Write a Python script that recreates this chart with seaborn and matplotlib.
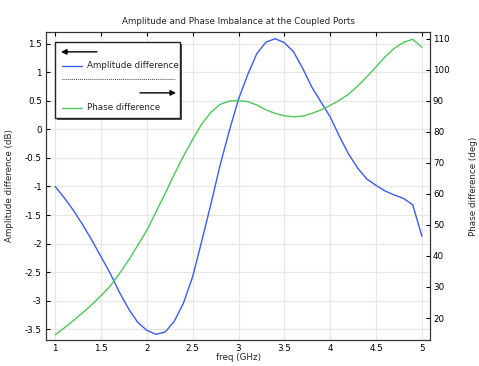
import numpy as np
import pandas as pd
import matplotlib
matplotlib.use("Agg")
import matplotlib.pyplot as plt
import seaborn as sns
from matplotlib.patches import Rectangle
from matplotlib.lines import Line2D

freq = [1.0, 1.1, 1.2, 1.3, 1.4, 1.5, 1.6, 1.7, 1.8, 1.9, 2.0, 2.1, 2.2, 2.3, 2.4,
        2.5, 2.6, 2.7, 2.8, 2.9, 3.0, 3.1, 3.2, 3.3, 3.4, 3.5, 3.6, 3.7, 3.8, 3.9,
        4.0, 4.1, 4.2, 4.3, 4.4, 4.5, 4.6, 4.7, 4.8, 4.9, 5.0]
amp_diff = [-1.0, -1.2, -1.42, -1.67, -1.94, -2.23, -2.52, -2.85, -3.14, -3.38, -3.52,
            -3.59, -3.55, -3.36, -3.04, -2.58, -1.95, -1.3, -0.62, -0.02, 0.53, 0.96,
            1.33, 1.53, 1.59, 1.52, 1.36, 1.07, 0.74, 0.48, 0.22, -0.12, -0.43, -0.68,
            -0.87, -0.98, -1.08, -1.15, -1.21, -1.32, -1.87]
phase_diff = [14.6, 16.8, 19.2, 21.7, 24.3, 27.2, 30.3, 34.3, 38.6, 43.4, 48.3, 54.2,
              60.2, 66.4, 72.2, 77.6, 82.6, 86.4, 88.9, 90.0, 90.1, 89.8, 88.7, 87.1,
              86.0, 85.2, 84.9, 85.1, 86.0, 87.1, 88.6, 90.2, 92.2, 94.8, 97.8, 101.0,
              104.3, 107.0, 108.9, 109.9, 107.3]

x_ticks = [1, 1.5, 2, 2.5, 3, 3.5, 4, 4.5, 5]
x_tick_labels = ["1", "1.5", "2", "2.5", "3", "3.5", "4", "4.5", "5"]
yl_ticks = [-3.5, -3, -2.5, -2, -1.5, -1, -0.5, 0, 0.5, 1, 1.5]
yl_tick_labels = ["-3.5", "-3", "-2.5", "-2", "-1.5", "-1", "-0.5", "0", "0.5", "1", "1.5"]
yr_ticks = [20, 30, 40, 50, 60, 70, 80, 90, 100, 110]

df = pd.DataFrame({"freq": freq, "amp": amp_diff, "phase": phase_diff})

sns.set_theme(style="white")
plt.rcParams["font.family"] = ["DejaVu Sans"]
plt.rcParams["axes.unicode_minus"] = False

BLUE = "#3b5cf2"
GREEN = "#4cc85a"
FS = 6.3

fig = plt.figure(figsize=(4.79, 3.66), dpi=100)
ax = fig.add_axes([0.096, 0.071, 0.802, 0.842])
ax2 = ax.twinx()

sns.lineplot(data=df, x="freq", y="amp", ax=ax, color=BLUE, linewidth=1.0)
sns.lineplot(data=df, x="freq", y="phase", ax=ax2, color=GREEN, linewidth=1.0)

ax.set_xlim(0.9, 5.09)
ax.set_ylim(-3.69, 1.71)
ax2.set_ylim(12.9, 112.3)

ax.set_xticks(x_ticks)
ax.set_xticklabels(x_tick_labels, fontsize=FS)
ax.set_yticks(yl_ticks)
ax.set_yticklabels(yl_tick_labels, fontsize=FS)
ax2.set_yticks(yr_ticks)
ax2.set_yticklabels([str(v) for v in yr_ticks], fontsize=FS)

ax.grid(True, color="#e6e6e6", linewidth=0.8)
ax.set_axisbelow(True)
ax.tick_params(axis="x", direction="in", top=True, length=3, width=0.8, pad=3, colors="black")
ax.tick_params(axis="y", direction="in", length=3, width=0.8, pad=3, colors="black")
ax2.tick_params(axis="y", direction="in", length=3, width=0.8, pad=2, colors="black")
for a in (ax, ax2):
    for s in a.spines.values():
        s.set_color("#333333")
        s.set_linewidth(0.8)

ax.set_xlabel("freq (GHz)", fontsize=FS, labelpad=0)
ax.set_ylabel("Amplitude difference (dB)", fontsize=FS, labelpad=8)
ax2.set_ylabel("Phase difference (deg)", fontsize=FS, labelpad=14)
ax.set_title("Amplitude and Phase Imbalance at the Coupled Ports", fontsize=FS, pad=6)

# legend box (axes fraction coordinates)
x0, x1 = 0.023, 0.349
y0, y1 = 0.721, 0.968
shadow = Rectangle((x0 + 0.006, y0 - 0.008), x1 - x0, y1 - y0, transform=ax2.transAxes,
                   facecolor="#555555", edgecolor="none", zorder=9)
box = Rectangle((x0, y0), x1 - x0, y1 - y0, transform=ax2.transAxes,
                facecolor="white", edgecolor="#222222", linewidth=1.0, zorder=10)
ax2.add_patch(shadow)
ax2.add_patch(box)

def fy(py):
    return (340 - py) / 308.0

def fx(px):
    return (px - 46) / 384.0

ax2.annotate("", xy=(fx(61), fy(52)), xytext=(fx(97), fy(52)), xycoords=ax2.transAxes,
             arrowprops=dict(arrowstyle="-|>", color="black", lw=1.0, mutation_scale=8,
                             shrinkA=0, shrinkB=0), zorder=11)
ax2.add_line(Line2D([fx(62), fx(82)], [fy(66), fy(66)], transform=ax2.transAxes,
                    color=BLUE, lw=1.0, zorder=11))
ax2.text(fx(87), fy(66), "Amplitude difference", transform=ax2.transAxes, fontsize=FS,
         va="center", ha="left", zorder=11)
ax2.add_line(Line2D([fx(62), fx(175)], [fy(79), fy(79)], transform=ax2.transAxes,
                    color="#444444", lw=0.7, ls=(0, (1, 1)), zorder=11))
ax2.annotate("", xy=(fx(176), fy(93)), xytext=(fx(140), fy(93)), xycoords=ax2.transAxes,
             arrowprops=dict(arrowstyle="-|>", color="black", lw=1.0, mutation_scale=8,
                             shrinkA=0, shrinkB=0), zorder=11)
ax2.add_line(Line2D([fx(62), fx(82)], [fy(108), fy(108)], transform=ax2.transAxes,
                    color=GREEN, lw=1.0, zorder=11))
ax2.text(fx(87), fy(108), "Phase difference", transform=ax2.transAxes, fontsize=FS,
         va="center", ha="left", zorder=11)

fig.savefig("out.png", dpi=100)
